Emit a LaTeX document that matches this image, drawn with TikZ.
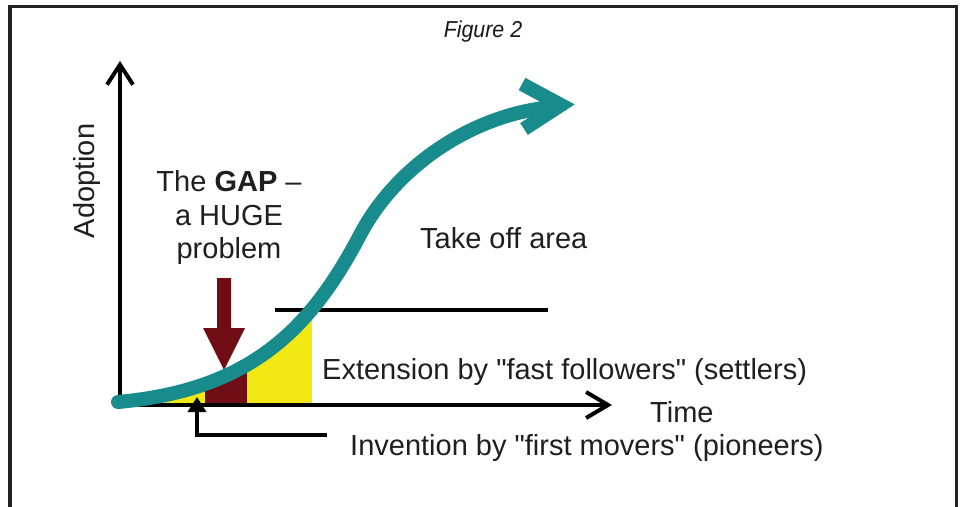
\documentclass[tikz,border=0pt]{standalone}
\usepackage{fontspec}
\setmainfont{Liberation Sans}
\usepackage{graphicx}
\usetikzlibrary{arrows.meta}
\definecolor{tealc}{RGB}{24,140,140}
\definecolor{gapred}{RGB}{112,12,20}
\definecolor{yell}{RGB}{242,232,20}
\definecolor{framec}{RGB}{34,34,34}
\newcommand{\sq}{\XeTeXglyph\numexpr\XeTeXcharglyph"22\relax\relax}
\tikzset{
  lbl/.style={inner sep=0pt, font=\fontsize{29}{33}\selectfont, text=black!88},
  axis/.style={line width=4pt, black},
  curveline/.style={line width=14pt, tealc},
}
\begin{document}
\begin{tikzpicture}[x=1pt,y=-1pt]
\useasboundingbox (0,0) rectangle (961,506);
\fill[white] (0,0) rectangle (961,506);
% frame (open at the bottom)
\draw[framec, line width=3.5pt] (10,520) -- (10,6.5) -- (956.5,6.5) -- (956.5,520);

% title
\node[inner sep=0pt, anchor=base, text=black!90] (title) at (483,37)
  {\scalebox{0.93}[1]{\fontsize{23}{26}\selectfont\itshape Figure 2}};

% filled areas under the curve
\begin{scope}
  \clip (118,402) .. controls (250,390) and (310,330) .. (360,235)
        -- (360,405) -- (118,405) -- cycle;
  \fill[yell] (165,300) rectangle (312,405);
  \fill[gapred] (205,300) rectangle (247,405);
\end{scope}

% axes
\coordinate (O) at (120,405);
\coordinate (ytip) at (120,61);
\coordinate (xtip) at (612,405);
\coordinate (xstart) at (118,405);
\coordinate (ybot) at (120,407);
\draw[axis, -{Straight Barb[length=20pt,width=26pt]}] (ybot) -- (ytip);
\draw[axis, -{Straight Barb[length=22pt,width=26pt]}] (xstart) -- (xtip);

% take-off line
\coordinate (tl1) at (275,310);
\coordinate (tl2) at (548,310);
\draw[line width=4.5pt] (tl1) -- (tl2);

% invention leader
\coordinate (invEnd) at (327,435);
\coordinate (invTip) at (197,397);
\draw[line width=4pt, -{Triangle[length=15pt,width=18pt]}] (invEnd) -| (invTip);

% GAP arrow
\fill[gapred] (217,278) -- (231,278) -- (231,328) -- (245,328) -- (224,370)
  -- (203,328) -- (217,328) -- cycle;

% S-curve
\draw[curveline, line cap=round] (118,402) .. controls (250,390) and (310,330) .. (360,235)
   .. controls (395,168) and (470,115) .. (552,107);
\draw[tealc, line width=14pt, line join=miter] (522,84) -- (561,105) -- (524,129);

% labels
\node[lbl, rotate=90, anchor=base] (adoption) at (94,181) {Adoption};
\node[lbl, anchor=base] (gap1) at (229,191) {The \textbf{GAP} –};
\node[lbl, anchor=base] (gap2) at (229,225) {a HUGE};
\node[lbl, anchor=base] (gap3) at (229,258) {problem};
\node[lbl, anchor=base west] (takeoff) at (420,248) {Take off area};
\node[lbl, anchor=base west] (ext) at (322,379) {Extension by \sq fast followers\sq\ (settlers)};
\node[lbl, anchor=base west] (time) at (650,422) {Time};
\node[lbl, anchor=base west] (inv) at (350,455) {Invention by \sq first movers\sq\ (pioneers)};
\end{tikzpicture}
\end{document}
